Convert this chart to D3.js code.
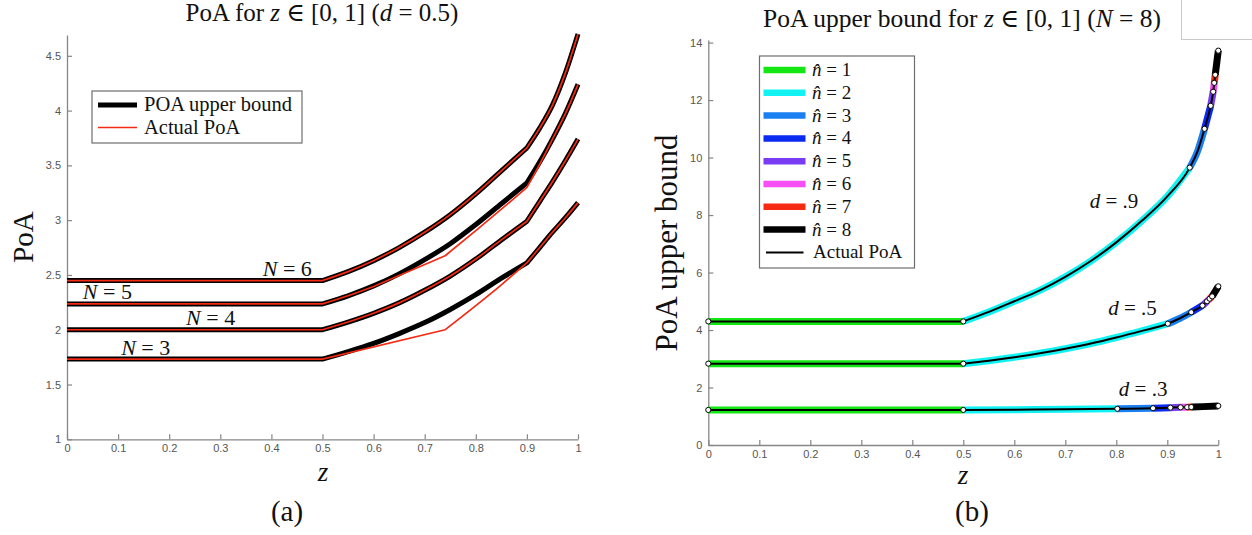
<!DOCTYPE html>
<html>
<head>
<meta charset="utf-8">
<script src="https://cdn.jsdelivr.net/npm/d3@7/dist/d3.min.js"></script>
<style>
  body { margin: 0; background: #fff; }
  text { font-family: "Liberation Serif", "DejaVu Serif", serif; fill: #111; }
  .tick text { font-family: "Liberation Sans", Arial, sans-serif; fill: #555; font-size: 11px; }
</style>
</head>
<body>
<svg id="fig" width="1252" height="535"></svg>
<script>
// ---------- panel (a): PoA for z in [0,1], d = 0.5 ----------
const zA = [0, 0.5, 0.55, 0.6, 0.65, 0.7, 0.75, 0.8, 0.85, 0.9, 0.925, 0.95, 0.975, 1];
const boundN3 = [1.732, 1.732, 1.80, 1.875, 1.965, 2.065, 2.185, 2.32, 2.47, 2.61, 2.75, 2.89, 3.02, 3.16];
const boundN4 = [2.0, 2.0, 2.07, 2.15, 2.245, 2.36, 2.49, 2.645, 2.82, 2.99, 3.17, 3.35, 3.54, 3.74];
const boundN5 = [2.236, 2.236, 2.31, 2.40, 2.51, 2.64, 2.785, 2.96, 3.15, 3.34, 3.53, 3.74, 3.97, 4.24];
const boundN6 = [2.449, 2.449, 2.53, 2.63, 2.75, 2.89, 3.05, 3.24, 3.45, 3.66, 3.84, 4.05, 4.34, 4.70];

const actualZ3 = [0, 0.5, 0.74, 0.8, 0.85, 0.9, 0.925, 0.95, 0.975, 1];
const actualN3 = [1.732, 1.732, 2.0, 2.22, 2.41, 2.61, 2.75, 2.89, 3.02, 3.16];
const actualZ4 = zA;
const actualN4 = boundN4;
const actualZ5 = [0, 0.5, 0.55, 0.6, 0.74, 0.8, 0.85, 0.9, 0.925, 0.95, 0.975, 1];
const actualN5 = [2.236, 2.236, 2.31, 2.395, 2.675, 2.905, 3.10, 3.30, 3.51, 3.74, 3.97, 4.24];
const actualZ6 = zA;
const actualN6 = boundN6;

const labelsN = ["3", "4", "5", "6"];
const xTicks = [0, 0.1, 0.2, 0.3, 0.4, 0.5, 0.6, 0.7, 0.8, 0.9, 1];
const xTickLabels = ["0", "0.1", "0.2", "0.3", "0.4", "0.5", "0.6", "0.7", "0.8", "0.9", "1"];
const yTicksA = [1, 1.5, 2, 2.5, 3, 3.5, 4, 4.5];
const yTickLabelsA = ["1", "1.5", "2", "2.5", "3", "3.5", "4", "4.5"];

// ---------- panel (b): PoA upper bound, N = 8 ----------
const d9Z = [0, 0.5, 0.55, 0.6, 0.65, 0.7, 0.75, 0.8, 0.85, 0.9, 0.944, 0.96, 0.973, 0.985, 0.990, 0.992, 0.994, 1.0];
const d9V = [4.30, 4.30, 4.63, 5.0, 5.38, 5.85, 6.40, 7.05, 7.8, 8.65, 9.65, 10.25, 11.0, 11.8, 12.29, 12.6, 12.88, 13.72];
const d9Switch = [0, 0.5, 0.944, 0.973, 0.985, 0.990, 0.992, 0.994, 1.0];

const d5Z = [0, 0.5, 0.55, 0.6, 0.65, 0.7, 0.75, 0.8, 0.85, 0.901, 0.925, 0.947, 0.969, 0.978, 0.983, 0.988, 1.0];
const d5V = [2.83, 2.83, 2.93, 3.05, 3.19, 3.35, 3.53, 3.74, 3.97, 4.22, 4.41, 4.62, 4.85, 5.0, 5.09, 5.17, 5.52];
const d5Switch = [0, 0.5, 0.901, 0.947, 0.969, 0.978, 0.983, 0.988, 1.0];

const d3Z = [0, 0.5, 0.6, 0.7, 0.802, 0.872, 0.906, 0.926, 0.939, 0.947, 0.97, 1.0];
const d3V = [1.22, 1.22, 1.23, 1.24, 1.26, 1.28, 1.30, 1.31, 1.315, 1.32, 1.335, 1.36];
const d3Switch = [0, 0.5, 0.802, 0.872, 0.906, 0.926, 0.939, 0.947, 1.0];

const dLabels = [".9", ".5", ".3"];
const nHatLabels = ["1", "2", "3", "4", "5", "6", "7", "8"];
const nHatColors = ["#14e614", "#12f2f2", "#1a7ff0", "#0a2af2", "#7a3cf2", "#f44ef4", "#f52a10", "#000000"];
const yTicksB = [0, 2, 4, 6, 8, 10, 12, 14];
const yTickLabelsB = ["0", "2", "4", "6", "8", "10", "12", "14"];

// ---------- drawing ----------
const svg = d3.select("#fig");
const axisColor = "#868686";

function drawAxes(g, x, y, yTicks, yLabels) {
  const ax = g.append("g").attr("transform", `translate(0,${y.range()[0]})`)
    .call(d3.axisBottom(x).tickValues(xTicks).tickFormat((d, i) => xTickLabels[i])
      .tickSizeInner(-5).tickSizeOuter(0).tickPadding(5));
  const ay = g.append("g").attr("transform", `translate(${x.range()[0]},0)`)
    .call(d3.axisLeft(y).tickValues(yTicks).tickFormat((d, i) => yLabels[i])
      .tickSizeInner(-5).tickSizeOuter(0).tickPadding(6));
  [ax, ay].forEach(a => {
    a.select(".domain").attr("stroke", axisColor).attr("stroke-width", 1.3);
    a.selectAll(".tick line").attr("stroke", axisColor).attr("stroke-width", 1.2);
  });
}

// one continuous path, smoothed piecewise; corners are kept at the given z breaks
function piecewisePath(pts, breaks, x, y) {
  const gen = d3.line().x(d => x(d[0])).y(d => y(d[1])).curve(d3.curveMonotoneX);
  const pieces = [];
  let cur = [pts[0]];
  for (let i = 1; i < pts.length; i++) {
    cur.push(pts[i]);
    if (i < pts.length - 1 && breaks.some(b => Math.abs(b - pts[i][0]) < 1e-9)) {
      pieces.push(cur);
      cur = [pts[i]];
    }
  }
  pieces.push(cur);
  return pieces.map((p, j) => { const s = gen(p); return j ? s.replace(/^M/, "L") : s; }).join("");
}

function mathText(g, x, y, size, parts, anchor) {
  const t = g.append("text").attr("x", x).attr("y", y)
    .attr("font-size", size).attr("text-anchor", anchor || "start");
  parts.forEach(p => {
    const s = t.append("tspan").text(p[0]);
    if (p[1]) s.attr("font-style", "italic");
  });
  return t;
}

// ----- panel (a) -----
const xA = d3.scaleLinear().domain([0, 1]).range([67, 578]);
const yA = d3.scaleLinear().domain([1, 4.69]).range([439.3, 35]);
const gA = svg.append("g");
drawAxes(gA, xA, yA, yTicksA, yTickLabelsA);

const bounds = [boundN3, boundN4, boundN5, boundN6];
const actuals = [[actualZ3, actualN3], [actualZ4, actualN4], [actualZ5, actualN5], [actualZ6, actualN6]];

bounds.forEach(b => {
  gA.append("path").attr("d", piecewisePath(zA.map((z, i) => [z, b[i]]), [0.5, 0.9], xA, yA))
    .attr("fill", "none").attr("stroke", "#000").attr("stroke-width", 5)
    .attr("stroke-linejoin", "round");
});
actuals.forEach(([zs, vs]) => {
  gA.append("path").attr("d", piecewisePath(zs.map((z, i) => [z, vs[i]]), [0.5, 0.6, 0.74, 0.9], xA, yA))
    .attr("fill", "none").attr("stroke", "#f42a12").attr("stroke-width", 1.7)
    .attr("stroke-linejoin", "round");
});

// N labels sitting on the flat parts
const nLabelZ = [0.106, 0.233, 0.031, 0.383];
labelsN.forEach((n, i) => {
  mathText(gA, xA(nLabelZ[i]), yA(bounds[i][0]) - 4.5, 22, [["N", true], [" = " + n, false]]);
});

// titles and axis labels
mathText(svg, 322, 21, 25, [["PoA for ", false], ["z", true], [" ∈ [0, 1] (", false], ["d", true], [" = 0.5)", false]], "middle");
svg.append("text").attr("transform", "translate(33,237) rotate(-90)")
  .attr("text-anchor", "middle").attr("font-size", 29).text("PoA");
svg.append("text").attr("x", 323).attr("y", 481).attr("text-anchor", "middle")
  .attr("font-size", 27).attr("font-style", "italic").text("z");
svg.append("text").attr("x", 287).attr("y", 521).attr("text-anchor", "middle")
  .attr("font-size", 29).text("(a)");

// legend (a)
const legA = svg.append("g");
legA.append("rect").attr("x", 92).attr("y", 91).attr("width", 210).attr("height", 52)
  .attr("fill", "#fff").attr("stroke", "#6e6e6e").attr("stroke-width", 1.2);
legA.append("line").attr("x1", 98).attr("x2", 137).attr("y1", 105).attr("y2", 105)
  .attr("stroke", "#000").attr("stroke-width", 5);
legA.append("line").attr("x1", 98).attr("x2", 137).attr("y1", 127.5).attr("y2", 127.5)
  .attr("stroke", "#f42a12").attr("stroke-width", 1.7);
legA.append("text").attr("x", 144).attr("y", 111).attr("font-size", 20.5).text("POA upper bound");
legA.append("text").attr("x", 144).attr("y", 133.5).attr("font-size", 20.5).text("Actual PoA");

// ----- panel (b) -----
const xB = d3.scaleLinear().domain([0, 1]).range([708.3, 1218.3]);
const yB = d3.scaleLinear().domain([0, 14.09]).range([445, 40]);
const gB = svg.append("g");
drawAxes(gB, xB, yB, yTicksB, yTickLabelsB);

const curvesB = [[d9Z, d9V, d9Switch], [d5Z, d5V, d5Switch], [d3Z, d3V, d3Switch]];

// coloured bands: one segment per n-hat between consecutive switch points
curvesB.forEach(([zs, vs, sw]) => {
  const pts = zs.map((z, i) => [z, vs[i]]);
  for (let k = 0; k < sw.length - 1; k++) {
    const seg = pts.filter(p => p[0] >= sw[k] - 1e-9 && p[0] <= sw[k + 1] + 1e-9);
    gB.append("path").attr("d", piecewisePath(seg, [], xB, yB)).attr("fill", "none")
      .attr("stroke", nHatColors[k]).attr("stroke-width", 7).attr("stroke-linejoin", "round");
  }
});
// actual PoA on top
curvesB.forEach(([zs, vs]) => {
  gB.append("path").attr("d", piecewisePath(zs.map((z, i) => [z, vs[i]]), [0.5], xB, yB))
    .attr("fill", "none").attr("stroke", "#000").attr("stroke-width", 2)
    .attr("stroke-linejoin", "round");
});
// switch markers
curvesB.forEach(([zs, vs, sw]) => {
  sw.forEach(s => {
    const i = zs.findIndex(z => Math.abs(z - s) < 1e-9);
    gB.append("circle").attr("cx", xB(s)).attr("cy", yB(vs[i])).attr("r", 2.6)
      .attr("fill", "#fff").attr("stroke", "#000").attr("stroke-width", 1);
  });
});

// d labels
const dLabelPos = [[0.748, 8.24], [0.784, 4.52], [0.805, 1.69]];
dLabels.forEach((d, i) => {
  mathText(gB, xB(dLabelPos[i][0]), yB(dLabelPos[i][1]), 21, [["d", true], [" = " + d, false]]);
});

mathText(svg, 962, 27, 25.5, [["PoA upper bound for ", false], ["z", true], [" ∈ [0, 1] (", false], ["N", true], [" = 8)", false]], "middle");
svg.append("text").attr("transform", "translate(677,243) rotate(-90)")
  .attr("text-anchor", "middle").attr("font-size", 31).text("PoA upper bound");
svg.append("text").attr("x", 963).attr("y", 484).attr("text-anchor", "middle")
  .attr("font-size", 27).attr("font-style", "italic").text("z");
svg.append("text").attr("x", 972).attr("y", 521).attr("text-anchor", "middle")
  .attr("font-size", 29).text("(b)");

// legend (b)
const legB = svg.append("g");
legB.append("rect").attr("x", 759.5).attr("y", 56).attr("width", 155).attr("height", 212)
  .attr("fill", "#fff").attr("stroke", "#6e6e6e").attr("stroke-width", 1.2);
nHatLabels.forEach((n, i) => {
  const cy = 70 + i * 22.8;
  legB.append("line").attr("x1", 763.5).attr("x2", 805.5).attr("y1", cy).attr("y2", cy)
    .attr("stroke", nHatColors[i]).attr("stroke-width", 6.5);
  mathText(legB, 812, cy + 6, 19, [["n\u0302", true], [" = " + n, false]]);
});
{
  const cy = 70 + 8 * 22.8;
  legB.append("line").attr("x1", 766).attr("x2", 803.5).attr("y1", cy).attr("y2", cy)
    .attr("stroke", "#000").attr("stroke-width", 2);
  legB.append("text").attr("x", 813).attr("y", cy + 6).attr("font-size", 19).text("Actual PoA");
}

// small frame in the top-right corner
svg.append("rect").attr("x", 1181.5).attr("y", -2).attr("width", 80).attr("height", 41.5)
  .attr("fill", "none").attr("stroke", "#c9c9c9").attr("stroke-width", 1);
</script>
</body>
</html>
